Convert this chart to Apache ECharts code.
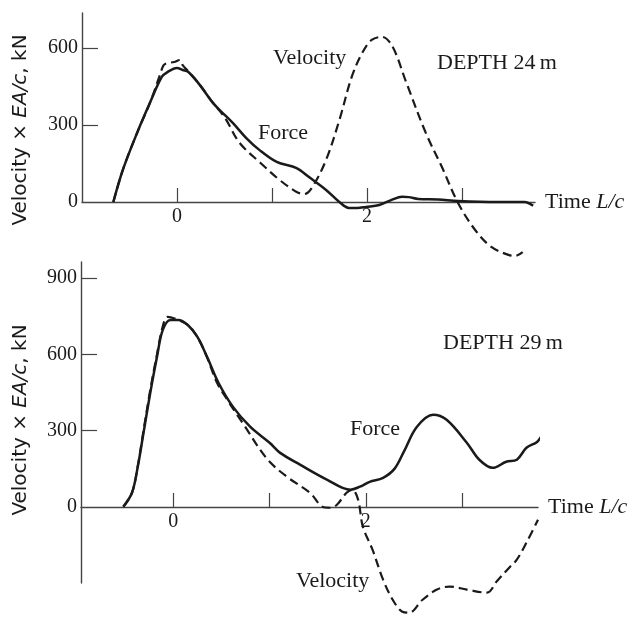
<!DOCTYPE html>
<html>
<head>
<meta charset="utf-8">
<script src="https://cdn.jsdelivr.net/npm/echarts@6/dist/echarts.min.js"></script>
<style>
  html, body { margin: 0; padding: 0; background: #fff; }
  #chart { width: 632px; height: 617px; }
</style>
</head>
<body>
<div id="chart"></div>
<script>
// depth 24 m, [time L/c, kN]
const force24 = [
  [-0.67, 0], [-0.57, 125], [-0.42, 269], [-0.28, 390], [-0.16, 487], [-0.1, 506],
  [0, 522], [0.06, 514], [0.12, 506], [0.24, 456], [0.37, 390], [0.45, 358],
  [0.59, 307], [0.73, 249], [0.87, 202], [1.05, 156], [1.26, 132], [1.39, 97],
  [1.57, 47], [1.71, 0], [1.81, -23], [1.9, -23], [1.99, -19], [2.13, -12],
  [2.26, 8], [2.37, 20], [2.44, 19], [2.54, 12], [2.75, 10], [2.96, 4],
  [3.38, 0], [3.66, 0], [3.75, -15]
]
const velocity24 = [
  [-0.67, 0], [-0.57, 125], [-0.42, 269], [-0.28, 390], [-0.18, 494], [-0.14, 533],
  [-0.1, 541], [-0.03, 545], [0.03, 553], [0.06, 533], [0.12, 508], [0.24, 456],
  [0.37, 390], [0.45, 355], [0.52, 319], [0.66, 230], [0.88, 152], [1.08, 86],
  [1.26, 39], [1.34, 31], [1.42, 55], [1.57, 164], [1.71, 319], [1.84, 487],
  [1.95, 580], [2.05, 631], [2.16, 643], [2.27, 605], [2.41, 470], [2.62, 269],
  [2.79, 136], [2.96, -4], [3.14, -109], [3.31, -175], [3.49, -206], [3.56, -210],
  [3.64, -195]
]
// depth 29 m
const force29 = [
  [-0.52, 0], [-0.43, 55], [-0.37, 157], [-0.31, 291], [-0.24, 448], [-0.17, 590],
  [-0.11, 696], [-0.03, 735], [0.05, 735], [0.15, 715], [0.25, 668], [0.35, 590],
  [0.47, 487], [0.62, 393], [0.8, 314], [1.0, 252], [1.11, 212], [1.32, 165],
  [1.6, 106], [1.84, 67], [1.94, 79], [2.04, 98], [2.18, 114], [2.3, 150],
  [2.4, 220], [2.53, 314], [2.7, 362], [2.84, 342], [3.05, 252], [3.18, 185],
  [3.32, 153], [3.46, 177], [3.57, 185], [3.67, 232], [3.78, 255], [3.88, 295],
  [3.96, 295]
]
const velocity29 = [
  [-0.52, 0], [-0.43, 55], [-0.37, 160], [-0.31, 300], [-0.24, 460], [-0.17, 600],
  [-0.11, 710], [-0.06, 747], [0.05, 735], [0.15, 715], [0.25, 668], [0.35, 588],
  [0.45, 491], [0.56, 421], [0.72, 330], [0.97, 190], [1.18, 118], [1.42, 55],
  [1.55, 0], [1.63, -4], [1.7, 8], [1.8, 55], [1.86, 67], [1.92, 28],
  [1.97, -79], [2.07, -169], [2.18, -287], [2.28, -366], [2.38, -413], [2.45, -417],
  [2.59, -366], [2.74, -326], [2.87, -314], [3.05, -326], [3.26, -338], [3.36, -294],
  [3.5, -236], [3.57, -208], [3.67, -141], [3.79, -51]
]
const xTicks = [0, 1, 2, 3]
const xLabels = [0, 2]
const yTicks24 = [300, 600]
const yLabels24 = [0, 300, 600]
const yTicks29 = [300, 600, 900]
const yLabels29 = [0, 300, 600, 900]

const serif = "Liberation Serif"
const sans = "DejaVu Sans"
const ink = "#1a1a1a"
const axisColor = "#444"

function xAxisOf(gridIndex, min, max, offset) {
  return {
    type: "value",
    gridIndex: gridIndex,
    position: "bottom",
    offset: offset,
    min: min,
    max: max,
    name: "Time {i|L/c}",
    nameLocation: "end",
    nameGap: 10,
    nameTextStyle: {
      fontFamily: serif, fontSize: 22, color: ink, verticalAlign: "middle",
      rich: { i: { fontFamily: serif, fontSize: 22, fontStyle: "italic", color: ink } },
    },
    axisLine: { onZero: false, lineStyle: { color: axisColor, width: 1.4 } },
    axisTick: { inside: true, length: 14, customValues: xTicks, lineStyle: { color: axisColor, width: 1.2 } },
    axisLabel: { customValues: xLabels, margin: 5, fontFamily: serif, fontSize: 20, color: ink },
    splitLine: { show: false },
  }
}

function yAxisOf(gridIndex, min, max, ticks, labels) {
  return {
    type: "value",
    gridIndex: gridIndex,
    min: min,
    max: max,
    axisLine: { show: true, onZero: false, lineStyle: { color: axisColor, width: 1.4 } },
    axisTick: { inside: true, length: 16, customValues: ticks, lineStyle: { color: axisColor, width: 1.2 } },
    axisLabel: { customValues: labels, margin: 4, fontFamily: serif, fontSize: 20, color: ink },
    splitLine: { show: false },
  }
}

function lineOf(name, idx, data, dashed) {
  return {
    name: name,
    type: "line",
    xAxisIndex: idx,
    yAxisIndex: idx,
    data: data,
    smooth: 0.35,
    clip: false,
    symbol: "none",
    silent: true,
    lineStyle: dashed
      ? { color: ink, width: 2.2, type: [9, 5] }
      : { color: ink, width: 2.5 },
  }
}

function note(text, x, y) {
  return {
    type: "text",
    x: x,
    y: y,
    style: { text: text, fontFamily: serif, fontSize: 22, fill: ink, align: "left", verticalAlign: "middle" },
  }
}

function axisTitle(x, y) {
  return {
    type: "text",
    x: x,
    y: y,
    rotation: Math.PI / 2,
    style: {
      text: "Velocity × {i|EA/c}, kN",
      fontFamily: sans,
      fontSize: 20,
      fill: ink,
      align: "center",
      verticalAlign: "middle",
      rich: { i: { fontFamily: sans, fontSize: 20, fontStyle: "italic", fill: ink } },
    },
  }
}

const myChart = echarts.init(document.getElementById("chart"), null, { renderer: "canvas" })
myChart.setOption({
  backgroundColor: "#fff",
  animation: false,
  grid: [
    { left: 82, top: 13, width: 453, height: 189 },
    { left: 81, top: 262, width: 457, height: 321 },
  ],
  xAxis: [xAxisOf(0, -1, 3.77, 0), xAxisOf(1, -0.96, 3.79, -76)],
  yAxis: [yAxisOf(0, 0, 736, yTicks24, yLabels24), yAxisOf(1, -300, 963, yTicks29, yLabels29)],
  series: [
    lineOf("Velocity 24", 0, velocity24, true),
    lineOf("Force 24", 0, force24, false),
    lineOf("Velocity 29", 1, velocity29, true),
    lineOf("Force 29", 1, force29, false),
  ],
  graphic: [
    axisTitle(21, 130),
    axisTitle(21, 420),
    note("Velocity", 273, 58),
    note("Force", 258, 133),
    note("DEPTH 24\u2009m", 437, 63),
    note("DEPTH 29\u2009m", 443, 343),
    note("Force", 350, 429),
    note("Velocity", 296, 581),
  ],
})

window.addEventListener("resize", () => {
  myChart.resize()
})
</script>
</body>
</html>
